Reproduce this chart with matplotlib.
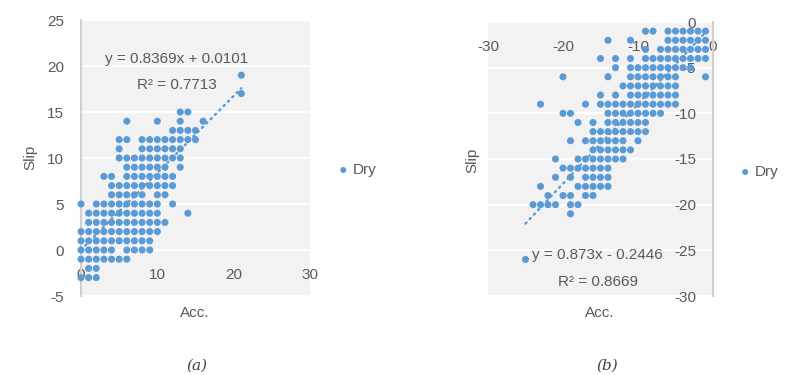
import matplotlib
matplotlib.use("Agg")
import matplotlib.pyplot as plt
import numpy as np

plt.rcParams['font.family'] = ['Liberation Sans', 'DejaVu Sans']
plt.rcParams['axes.unicode_minus'] = False

# ---------------- data (a) ----------------
a_slip_levels = [19, 17, 15, 14, 13, 12, 11, 10, 9, 8, 7, 6, 5, 4, 3, 2, 1, 0, -1, -2, -3]
a_acc_by_level = [
    [21],
    [21],
    [13, 14],
    [6, 10, 13, 16],
    [12, 13, 14, 15],
    [5, 6, 8, 9, 10, 11, 12, 13, 14, 15],
    [5, 8, 9, 10, 11, 12, 13],
    [5, 6, 7, 8, 9, 10, 11, 12, 13],
    [6, 7, 8, 9, 10, 11, 13],
    [3, 4, 6, 7, 8, 9, 10, 11, 12],
    [4, 5, 6, 7, 8, 9, 10, 11, 12],
    [4, 5, 6, 7, 8, 10, 11],
    [0, 2, 3, 4, 5, 6, 7, 8, 9, 10, 12],
    [1, 2, 3, 4, 5, 6, 7, 8, 9, 10, 14],
    [1, 2, 3, 4, 5, 6, 7, 8, 9, 10, 11],
    [0, 1, 2, 3, 4, 5, 6, 7, 8, 9, 10],
    [0, 1, 2, 3, 4, 5, 6, 7, 8, 9],
    [0, 1, 2, 3, 4, 6, 7, 8, 9],
    [0, 1, 2, 3, 4, 5, 6],
    [1, 2],
    [0, 1, 2],
]
a_slope, a_intercept, a_r2 = 0.8369, 0.0101, 0.7713

# ---------------- data (b) ----------------
b_slip_levels = [-1, -2, -3, -4, -5, -6, -7, -8, -9, -10, -11, -12, -13, -14,
                 -15, -16, -17, -18, -19, -20, -21, -26]
b_acc_by_level = [
    [-9, -8, -6, -5, -4, -3, -2, -1],
    [-14, -11, -6, -5, -4, -3, -2, -1],
    [-9, -7, -6, -5, -4, -3, -2, -1],
    [-15, -13, -11, -9, -8, -7, -6, -5, -4, -3, -2, -1],
    [-13, -11, -10, -9, -8, -7, -6, -5, -4, -3],
    [-20, -14, -11, -10, -9, -8, -7, -6, -5, -1],
    [-12, -11, -10, -9, -8, -7, -6, -5],
    [-15, -13, -11, -10, -9, -8, -7, -6, -5],
    [-23, -17, -15, -14, -13, -12, -11, -10, -9, -8, -7, -6, -5],
    [-20, -19, -14, -13, -12, -11, -10, -9, -8, -7],
    [-18, -16, -14, -13, -12, -11, -10, -9],
    [-16, -15, -14, -13, -12, -11, -10, -9],
    [-19, -17, -16, -15, -14, -13, -12, -10],
    [-16, -15, -14, -13, -12, -11],
    [-21, -18, -17, -16, -15, -14, -13, -12],
    [-20, -19, -18, -17, -16, -15, -14],
    [-21, -19, -17, -16, -15, -14],
    [-23, -18, -17, -16, -15, -14],
    [-22, -20, -19, -17, -16],
    [-24, -23, -22, -21, -19, -18],
    [-19],
    [-25],
]
b_slope, b_intercept, b_r2 = 0.873, -0.2446, 0.8669

series_name = "Dry"
x_label = "Acc."
y_label = "Slip"

# ---------------- styling ----------------
BLUE = "#5B9BD5"
GRAY_TXT = "#595959"
BG = "#F2F2F2"
AXLINE = "#D0D0D0"
FS = 11


def flatten(levels, acc_lists):
    xs, ys = [], []
    for yv, row in zip(levels, acc_lists):
        for xv in row:
            xs.append(xv)
            ys.append(yv)
    return np.array(xs, float), np.array(ys, float)


fig = plt.figure(figsize=(8, 3.75), dpi=100)
W, H = 800.0, 375.0


def make_axes(px_left, px_right, px_top, px_bottom):
    return fig.add_axes([px_left / W, 1 - px_bottom / H,
                         (px_right - px_left) / W, (px_bottom - px_top) / H])


def style(ax):
    ax.set_facecolor(BG)
    for s in ('top', 'right'):
        ax.spines[s].set_visible(False)
    ax.spines['bottom'].set_visible(False)
    ax.spines['left'].set_color(AXLINE)
    ax.spines['left'].set_linewidth(1.5)
    ax.tick_params(length=0, labelsize=FS, labelcolor=GRAY_TXT)
    ax.yaxis.grid(True, color='white', linewidth=1.6)
    ax.xaxis.grid(False)
    ax.set_axisbelow(True)


# ---------- chart (a) ----------
axa = make_axes(81, 310, 20, 296)
style(axa)
axa.set_xlim(0, 30)
axa.set_ylim(-5, 25)
axa.set_xticks([0, 10, 20, 30])
axa.set_yticks(np.arange(-5, 26, 5))
axa.spines['bottom'].set_position(('data', 0))
axa.tick_params(axis='x', pad=13)
axa.tick_params(axis='y', pad=12)
xa, ya = flatten(a_slip_levels, a_acc_by_level)
axa.scatter(xa, ya, s=26, color=BLUE, edgecolors='none', zorder=3, label=series_name,
            clip_on=False)
lx = np.array([xa.min(), xa.max()])
axa.plot(lx, a_slope * lx + a_intercept, color=BLUE, lw=1.7,
         linestyle=(0, (0.6, 2.0)), dash_capstyle='round', zorder=4)
axa.text(12.5, 20.8, f"y = {a_slope}x + {a_intercept}", ha='center', va='center',
         fontsize=FS, color=GRAY_TXT, zorder=5)
axa.text(12.6, 17.9, f"R² = {a_r2}", ha='center', va='center',
         fontsize=FS, color=GRAY_TXT, zorder=5)
axa.legend(loc='center left', bbox_to_anchor=(328 / W, 1 - 170 / H),
           bbox_transform=fig.transFigure, frameon=False, fontsize=FS,
           labelcolor=GRAY_TXT, handletextpad=0.1, markerscale=0.85,
           borderpad=0, handlelength=1.0)
fig.text(30 / W, 1 - 157 / H, y_label, rotation=90, ha='center', va='center',
         fontsize=FS, color=GRAY_TXT)
fig.text(195 / W, 1 - 313 / H, x_label, ha='center', va='center',
         fontsize=FS, color=GRAY_TXT)

# ---------- chart (b) ----------
axb = make_axes(488, 713, 22, 296)
style(axb)
axb.set_xlim(-30, 0)
axb.set_ylim(-30, 0)
axb.set_xticks([-30, -20, -10, 0])
axb.set_yticks(np.arange(-30, 1, 5))
axb.spines['bottom'].set_position(('data', 0))
axb.spines['left'].set_position(('data', 0))
axb.tick_params(axis='x', pad=13)
axb.tick_params(axis='y', pad=12)
xb, yb = flatten(b_slip_levels, b_acc_by_level)
axb.scatter(xb, yb, s=26, color=BLUE, edgecolors='none', zorder=3, label=series_name,
            clip_on=False)
lxb = np.array([xb.min(), xb.max()])
axb.plot(lxb, b_slope * lxb + b_intercept, color=BLUE, lw=1.7,
         linestyle=(0, (0.6, 2.0)), dash_capstyle='round', zorder=4)
axb.text(-15.4, -25.5, f"y = {b_slope}x - {abs(b_intercept)}", ha='center', va='center',
         fontsize=FS, color=GRAY_TXT, zorder=5)
axb.text(-15.4, -28.5, f"R² = {b_r2}", ha='center', va='center',
         fontsize=FS, color=GRAY_TXT, zorder=5)
axb.legend(loc='center left', bbox_to_anchor=(730 / W, 1 - 172 / H),
           bbox_transform=fig.transFigure, frameon=False, fontsize=FS,
           labelcolor=GRAY_TXT, handletextpad=0.1, markerscale=0.85,
           borderpad=0, handlelength=1.0)
fig.text(472 / W, 1 - 160 / H, y_label, rotation=90, ha='center', va='center',
         fontsize=FS, color=GRAY_TXT)
fig.text(600 / W, 1 - 313 / H, x_label, ha='center', va='center',
         fontsize=FS, color=GRAY_TXT)

# captions
fig.text(197 / W, 1 - 366 / H, "(a)", ha='center', va='center', fontsize=11,
         style='italic', color='#404040', family=['DejaVu Serif'])
fig.text(607 / W, 1 - 366 / H, "(b)", ha='center', va='center', fontsize=11,
         style='italic', color='#404040', family=['DejaVu Serif'])

fig.savefig("out.png", dpi=100, facecolor='white')
